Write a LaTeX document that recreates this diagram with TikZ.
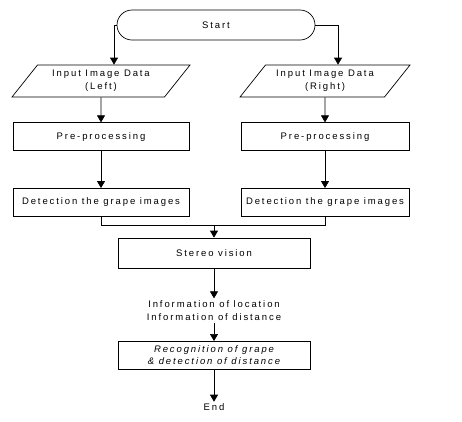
\documentclass[tikz,border=0pt]{standalone}
\usepackage{fontspec}
\setmainfont{Liberation Sans}[LetterSpace=20]
\usepackage{tikz}
\usetikzlibrary{arrows.meta,positioning,shapes.geometric}

\begin{document}
\begin{tikzpicture}[x=1pt,y=-1pt,font=\fontsize{9.5}{13}\selectfont,
    line width=0.7pt,
    termbox/.style={draw,rounded corners=15pt,minimum width=198pt,minimum height=30pt},
    iobox/.style={draw,trapezium,trapezium left angle=45,trapezium right angle=135,
      trapezium stretches body,minimum height=32pt,align=center,inner sep=2pt},
    procbox/.style={draw,minimum height=28pt,align=center},
    flowarrow/.style={-{Triangle[width=8pt,length=7pt]}}]
  \useasboundingbox (0,0) rectangle (462,421);
  % start and the two camera inputs
  \node[termbox] (start) at (216,25) {Start};
  \node[iobox,minimum width=178pt] (inL) at (101,81) {Input Image Data\\(Left)};
  \node[iobox,minimum width=170pt] (inR) at (325,81) {Input Image Data\\(Right)};
  % left and right processing columns
  \node[procbox,minimum width=176pt,below=25pt of inL] (preL) {Pre-processing};
  \node[procbox,minimum width=168pt,below=25pt of inR] (preR) {Pre-processing};
  \node[procbox,minimum width=176pt,below=37pt of preL] (detL) {Detection the grape images};
  \node[procbox,minimum width=168pt,below=37pt of preR] (detR) {Detection the grape images};
  % joined part
  \node[procbox,minimum width=192pt,minimum height=30pt] (stereo) at (214,253) {Stereo vision};
  \coordinate[above=12pt of stereo] (join);
  \node[align=center,inner sep=2pt,below=30pt of stereo] (info) {Information of location\\Information of distance};
  \node[procbox,minimum width=192pt,below=18pt of info,font=\fontsize{9.5}{12}\selectfont\itshape] (recog) {Recognition of grape\\\& detection of distance};
  \node[inner sep=2pt,below=32pt of recog] (end) {End};
  \draw[flowarrow] (start.west) -| (inL.top side);
  \draw[flowarrow] (start.east) -| (inR.top side);
  \draw[flowarrow] (inL) -- (preL);
  \draw[flowarrow] (inR) -- (preR);
  \draw[flowarrow] (preL) -- (detL);
  \draw[flowarrow] (preR) -- (detR);
  \draw (detL) |- (join);
  \draw (detR) |- (join);
  \draw[flowarrow] (join) -- (stereo);
  \draw[flowarrow] (stereo) -- (info);
  \draw[flowarrow] (info) -- (recog);
  \draw[flowarrow] (recog) -- (end);
\end{tikzpicture}
\end{document}
